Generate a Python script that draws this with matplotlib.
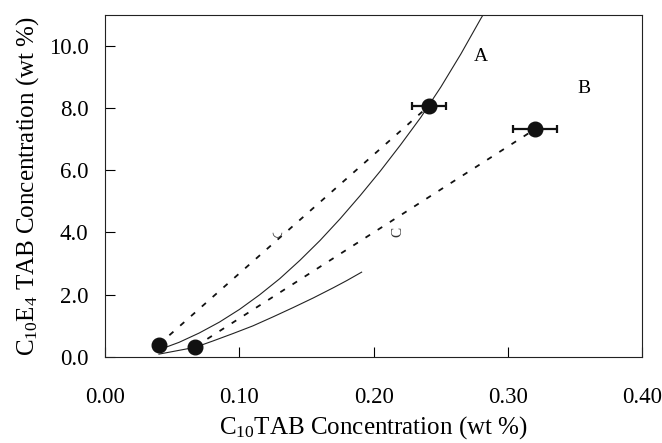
import matplotlib
matplotlib.use("Agg")
import matplotlib.pyplot as plt

plt.rcParams['font.family'] = ['Liberation Serif', 'DejaVu Serif', 'DejaVu Sans']
plt.rcParams['mathtext.fontset'] = 'custom'
plt.rcParams['mathtext.rm'] = 'Liberation Serif'
plt.rcParams['mathtext.it'] = 'Liberation Serif:italic'

# Measured points (C10TAB wt %, C10E4 wt %)
pts_x = [0.0397, 0.067, 0.241, 0.320]
pts_y = [0.38, 0.32, 8.07, 7.32]
pts_xerr = [0.0, 0.0, 0.0125, 0.0165]

# Curve A (solid)
curveA_x = [0.040, 0.055, 0.070, 0.085, 0.100, 0.115, 0.130, 0.145, 0.160, 0.175,
            0.190, 0.205, 0.220, 0.235, 0.250, 0.265, 0.280, 0.2835]
curveA_y = [0.22, 0.46, 0.76, 1.11, 1.52, 1.99, 2.51, 3.10, 3.74, 4.44,
            5.19, 5.98, 6.82, 7.70, 8.68, 9.75, 10.90, 11.15]

# Lower curve (solid)
curveL_x = [0.040, 0.067, 0.080, 0.095, 0.110, 0.125, 0.140, 0.155, 0.170, 0.180, 0.191]
curveL_y = [0.08, 0.30, 0.50, 0.74, 0.99, 1.28, 1.58, 1.89, 2.22, 2.45, 2.72]

# Dashed tie lines (index pairs into pts)
tie1 = [0, 2]
tie2 = [1, 3]

xticks = [0.0, 0.1, 0.2, 0.3, 0.4]
xticklabels = ['0.00', '0.10', '0.20', '0.30', '0.40']
yticks = [0.0, 2.0, 4.0, 6.0, 8.0, 10.0]
yticklabels = ['0.0', '2.0', '4.0', '6.0', '8.0', '10.0']

fig = plt.figure(figsize=(6.62, 4.43), dpi=100)
ax = fig.add_axes([0.159, 0.195, 0.811, 0.771])

ax.plot(curveA_x, curveA_y, color='#222222', lw=0.8)
ax.plot(curveL_x, curveL_y, color='#222222', lw=0.8)

for tie in (tie1, tie2):
    ax.plot([pts_x[i] for i in tie], [pts_y[i] for i in tie], color='#111111',
            lw=1.3, dashes=(3.0, 5.0))

ax.errorbar(pts_x, pts_y, xerr=pts_xerr, fmt='o', color='#111111', ms=10.5,
            ecolor='#111111', elinewidth=1.6, capsize=3, capthick=1.6)

ax.text(0.280, 9.65, 'A', fontsize=14, ha='center', va='center')
ax.text(0.357, 8.63, 'B', fontsize=14, ha='center', va='center')

# small arc marks in the figure
ax.text(0.128, 4.0, '\u25e1', fontsize=9, ha='center', va='center',
        family=['DejaVu Sans'], color='#333333')
ax.text(0.218, 4.0, 'C', fontsize=11, ha='center', va='center', rotation=90,
        color='#333333')

ax.set_xlim(0, 0.4)
ax.set_ylim(0, 11.0)
ax.set_xticks(xticks)
ax.set_xticklabels(xticklabels)
ax.set_yticks(yticks)
ax.set_yticklabels(yticklabels)
ax.tick_params(axis='both', direction='in', length=7, width=0.8, labelsize=16.5)
ax.tick_params(axis='x', pad=22)
ax.tick_params(axis='y', pad=12)
for s in ax.spines.values():
    s.set_linewidth(0.8)
    s.set_color('#222222')

ax.set_xlabel(r'C$_{10}$TAB Concentration (wt %)', fontsize=18, labelpad=4)
ax.set_ylabel(r'C$_{10}$E$_4$ TAB Concentration (wt %)', fontsize=18, labelpad=6)

fig.savefig('out.png', dpi=100)
